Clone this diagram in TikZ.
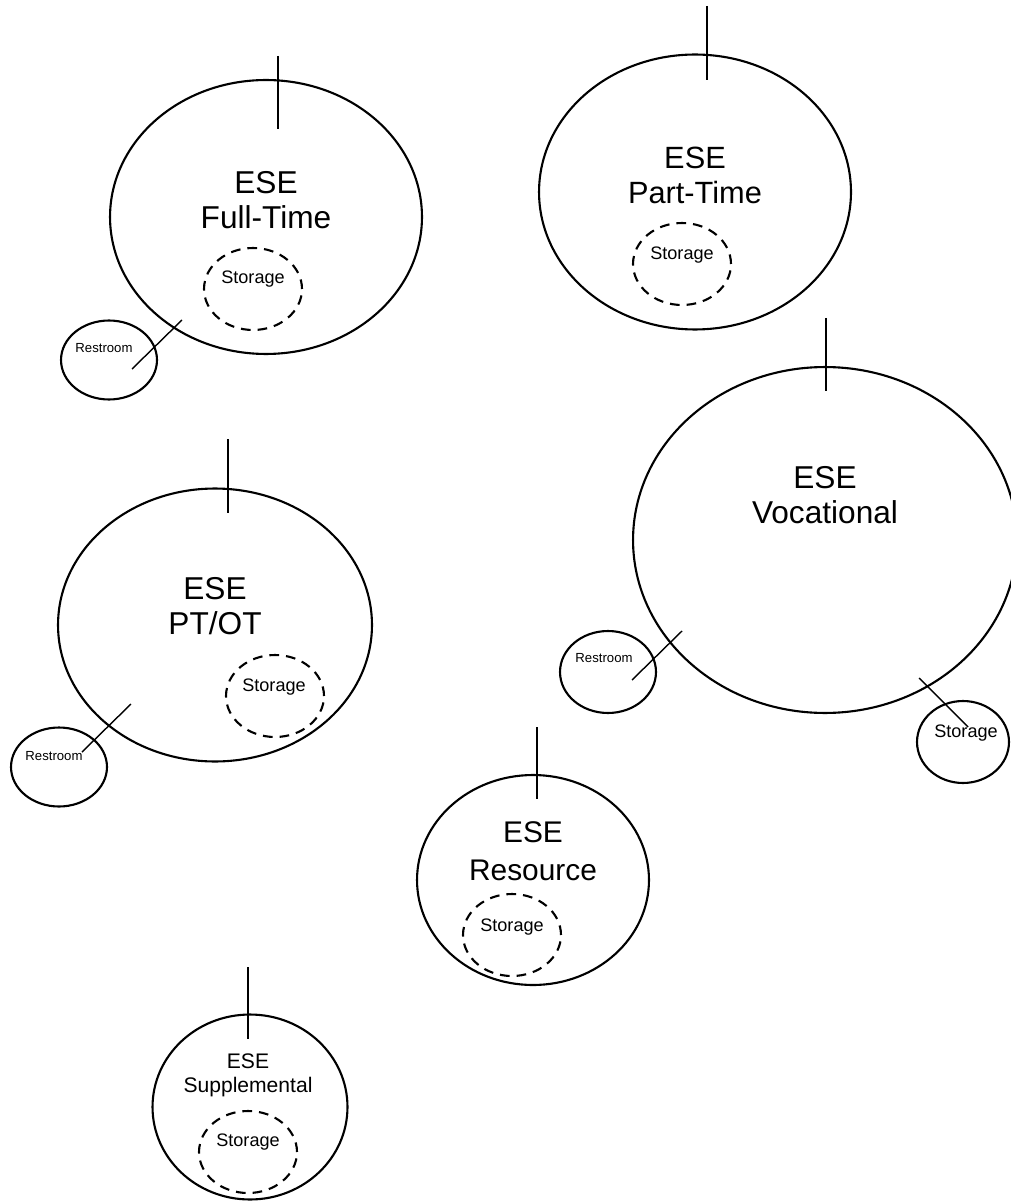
\documentclass[tikz,border=0pt]{standalone}
\usepackage{fontspec}
\setmainfont{Liberation Sans}
\usetikzlibrary{shapes.geometric}

\begin{document}
\begin{tikzpicture}[x=0.02cm, y=-0.02cm]
            \tikzset{Room/.style={%
                    shape=ellipse,%
                    draw=black,%
                    line width=1.2pt,%
                    inner sep=0pt,%
                },
                Closet/.style={%
                    Room,%
                    dash pattern=on 5.5pt off 4pt,%
                    minimum width=1.96cm,%
                    minimum height=1.64cm,%
                },
                Side/.style={%
                    Room,%
                    minimum width=1.92cm,%
                    minimum height=1.58cm,%
                },
                Door/.style={line width=0.8pt},
                Big/.style={align=center, font=\fontsize{18}{20}\selectfont},
                Small/.style={font=\fontsize{10.3}{12}\selectfont},
                Tiny/.style={font=\fontsize{7.5}{9}\selectfont},
            }
                \useasboundingbox (0,0) rectangle (1010,1202);

                % rooms
                \node[Room, minimum width=6.24cm, minimum height=5.48cm] (full) at (266,217) {};
                \node[Room, minimum width=6.24cm, minimum height=5.5cm] (part) at (695,192) {};
                \node[Room, minimum width=6.28cm, minimum height=5.46cm] (ptot) at (215,625) {};
                \node[Room, minimum width=7.68cm, minimum height=6.92cm] (voc) at (825,540) {};
                \node[Room, minimum width=4.64cm, minimum height=4.2cm] (res) at (533,880) {};
                \node[Room, minimum width=3.9cm, minimum height=3.7cm] (sup) at (250,1107) {};

                \node[Big] (fulltext) at (266,200) {ESE\\Full-Time};
                \node[Big, font=\fontsize{17.5}{20}\selectfont] (parttext) at (695,175) {ESE\\Part-Time};
                \node[Big] (ptottext) at (215,606) {ESE\\PT/OT};
                \node[Big] (voctext) at (825,495) {ESE\\Vocational};
                \node[Big, font=\fontsize{17}{21.5}\selectfont] (restext) at (533,851) {ESE\\Resource};
                \node[Big, font=\fontsize{12}{13.6}\selectfont] (suptext) at (248,1075) {ESE\\Supplemental};

                % storage
                \node[Closet] (fullstore) at (253,289) {};
                \node[Closet] (partstore) at (682,264) {};
                \node[Closet] (ptotstore) at (275,696) {};
                \node[Closet] (resstore) at (512,935) {};
                \node[Closet] (supstore) at (248,1152) {};
                \node[Side, minimum width=1.84cm, minimum height=1.64cm] (vocstore) at (963,742) {};

                \node[Small] (fullstoretext) at (253,279) {Storage};
                \node[Small] (partstoretext) at (682,255) {Storage};
                \node[Small] (ptotstoretext) at (274,687) {Storage};
                \node[Small] (resstoretext) at (512,927) {Storage};
                \node[Small] (supstoretext) at (248,1142) {Storage};
                \node[Small] (vocstoretext) at (966,733) {Storage};

                % restrooms
                \node[Side] (fullrest) at (109,360) {};
                \node[Side] (ptotrest) at (59,767) {};
                \node[Side, minimum height=1.64cm] (vocrest) at (608,672) {};

                \node[Tiny] (fullresttext) at (104,348) {Restroom};
                \node[Tiny] (ptotresttext) at (54,756) {Restroom};
                \node[Tiny] (vocresttext) at (604,658) {Restroom};

                % doors
                \coordinate (fulltop) at (278,56);
                \coordinate (fullin) at (278,129);
                \coordinate (parttop) at (707,6);
                \coordinate (partin) at (707,80);
                \coordinate (ptottop) at (228,439);
                \coordinate (ptotin) at (228,513);
                \coordinate (voctop) at (826,318);
                \coordinate (vocin) at (826,391);
                \coordinate (restop) at (537,727);
                \coordinate (resin) at (537,799);
                \coordinate (suptop) at (248,967);
                \coordinate (supin) at (248,1039);
                \coordinate (fullr1) at (182,320);
                \coordinate (fullr2) at (132,369);
                \coordinate (ptotr1) at (131,704);
                \coordinate (ptotr2) at (82,752);
                \coordinate (vocr1) at (682,631);
                \coordinate (vocr2) at (632,680);
                \coordinate (vocs1) at (919,678);
                \coordinate (vocs2) at (968,727);

                \draw[Door] (fulltop) -- (fullin);
                \draw[Door] (parttop) -- (partin);
                \draw[Door] (ptottop) -- (ptotin);
                \draw[Door] (voctop) -- (vocin);
                \draw[Door] (restop) -- (resin);
                \draw[Door] (suptop) -- (supin);
                \draw[Door] (fullr1) -- (fullr2);
                \draw[Door] (ptotr1) -- (ptotr2);
                \draw[Door] (vocr1) -- (vocr2);
                \draw[Door] (vocs1) -- (vocs2);
\end{tikzpicture}
\end{document}
